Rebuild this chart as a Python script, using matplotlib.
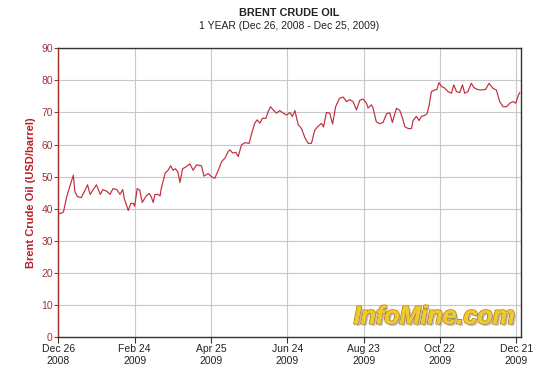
import pandas as pd
import matplotlib
matplotlib.use('Agg')
import matplotlib.pyplot as plt
import matplotlib.patheffects as pe

plt.rcParams['font.family'] = ['Liberation Sans', 'DejaVu Sans']

start = pd.Timestamp('2008-12-26')

# days after Dec 26, 2008 and Brent price (USD/barrel)
days = [0, 2, 4, 6.6, 9, 11.8, 13, 15, 18, 20, 23, 25, 27.5, 30, 33, 35, 38, 40.6, 43, 46,
        48.5, 50.6, 52, 54, 55, 57, 59, 60, 62, 64, 66, 69, 71.5, 73, 74.6, 76, 78.5, 80,
        81, 84, 86.4, 88.3, 90.3, 92, 94, 95.6, 97.7, 100, 103.5, 106, 108.7, 112.6, 114.5,
        117.8, 120.5, 123, 125.7, 128.4, 131, 133.5, 134.9, 137, 139.6, 141.4, 144, 146.7,
        150, 152, 154.5, 156.3, 158.5, 160.5, 163.2, 165, 166.8, 169.4, 171.6, 174, 176.8,
        179.4, 182, 184, 186, 188.5, 191.2, 193.8, 196.4, 199, 201.6, 204, 206.9, 208.5,
        210.8, 213.4, 215.6, 218, 221, 224, 226.5, 229, 231.7, 234.4, 237, 239.6, 242.3,
        243.5, 246.2, 247.4, 250, 252.7, 255.3, 258, 260.6, 262.6, 265.8, 268.4, 270.5,
        272.4, 275, 277.6, 278.9, 281.5, 283.6, 285.5, 288, 289.9, 291.5, 293.3, 296, 297.7,
        299.3, 301.2, 303.8, 306.4, 309.1, 310.9, 313, 315.6, 317.7, 319.5, 322, 324.7,
        326.6, 329.2, 332.6, 336, 338.6, 341.8, 344.4, 347, 349.6, 352.4, 355, 357.5,
        359.6, 361.5, 362.8]
price = [38.6, 38.6, 39.0, 43.8, 46.9, 50.5, 45.4, 43.8, 43.5, 45.0, 47.5, 44.5, 46.0, 47.5,
         44.5, 46.0, 45.5, 44.5, 46.3, 46.0, 44.5, 46.0, 43.0, 40.7, 39.5, 41.7, 41.7, 40.8,
         46.3, 45.8, 42.0, 44.0, 44.8, 43.8, 42.0, 44.5, 44.5, 44.0, 46.5, 51.1, 52.1, 53.4,
         52.0, 52.5, 51.5, 48.2, 52.5, 53.0, 54.0, 52.0, 53.7, 53.4, 50.2, 51.0, 50.0, 49.5,
         52.0, 54.7, 55.8, 57.8, 58.4, 57.4, 57.6, 56.3, 59.9, 60.6, 60.4, 63.5, 66.7, 67.7,
         66.7, 68.2, 68.2, 70.3, 71.8, 70.6, 69.8, 70.6, 69.8, 69.2, 70.0, 68.8, 70.6, 66.3,
         65.0, 62.2, 60.4, 60.4, 64.5, 65.6, 66.6, 65.5, 70.0, 69.8, 66.4, 71.8, 74.4, 74.8,
         73.4, 74.0, 73.4, 70.8, 73.8, 74.2, 72.9, 71.4, 72.4, 71.4, 67.1, 66.5, 66.9, 69.6,
         69.9, 66.9, 71.3, 70.7, 68.4, 65.6, 65.0, 65.0, 67.5, 68.8, 67.5, 68.8, 69.1, 69.6,
         72.2, 76.5, 77.0, 77.2, 79.3, 78.1, 77.6, 76.5, 76.0, 78.6, 76.5, 76.2, 78.6, 76.0,
         76.5, 79.1, 77.8, 77.2, 77.0, 77.2, 79.1, 77.5, 77.0, 73.4, 71.8, 71.8, 72.9, 73.4,
         72.9, 75.2, 76.2]

tick_days = [0, 60, 120, 180, 240, 300, 360]
tick_labels = ['Dec 26\n2008', 'Feb 24\n2009', 'Apr 25\n2009', 'Jun 24\n2009',
               'Aug 23\n2009', 'Oct 22\n2009', 'Dec 21\n2009']

dates = [start + pd.Timedelta(days=d) for d in days]
tick_dates = [start + pd.Timedelta(days=d) for d in tick_days]

fig = plt.figure(figsize=(5.4, 3.86), dpi=100)
ax = fig.add_axes([0.108, 0.126, 0.856, 0.749])

ax.plot(dates, price, color='#c02e3a', linewidth=0.85)

ax.set_xlim(start, start + pd.Timedelta(days=363.4))
ax.set_ylim(0, 90)
ax.set_yticks(range(0, 91, 10))
ax.set_xticks(tick_dates)
ax.set_xticklabels(tick_labels, fontsize=7.5, color='#222222', linespacing=1.15)
ax.tick_params(axis='y', labelsize=7.5, labelcolor='#9e3535', color='#9e3535',
               length=3, width=0.8, pad=1)
ax.tick_params(axis='x', length=4, width=0.8, color='#333333', pad=1)

ax.grid(True, color='#c8c8c8', linewidth=0.8)
ax.set_axisbelow(True)

for side in ['top', 'right', 'bottom']:
    ax.spines[side].set_color('#333333')
    ax.spines[side].set_linewidth(1.0)
ax.spines['left'].set_color('#a52a2a')
ax.spines['left'].set_linewidth(1.0)

ax.set_ylabel('Brent Crude Oil (USD/barrel)', fontsize=8, fontweight='bold',
              color='#b8202a', labelpad=4)

fig.text(0.535, 0.978, 'BRENT CRUDE OIL', ha='center', va='top', fontsize=7.8,
         fontweight='bold', color='#222222')
fig.text(0.535, 0.945, '1 YEAR (Dec 26, 2008 - Dec 25, 2009)', ha='center', va='top',
         fontsize=7.5, color='#222222')

ax.text(0.988, 0.03, 'InfoMine.com', transform=ax.transAxes, ha='right', va='bottom',
        fontsize=18, fontweight='bold', style='italic', color='#f2c92c',
        path_effects=[pe.withStroke(linewidth=1.5, foreground='#b8860b'),
                      pe.withSimplePatchShadow(offset=(1.5, -1.5), shadow_rgbFace='#999999', alpha=0.6),
                      pe.Normal()])

fig.savefig('out.png', dpi=100)
